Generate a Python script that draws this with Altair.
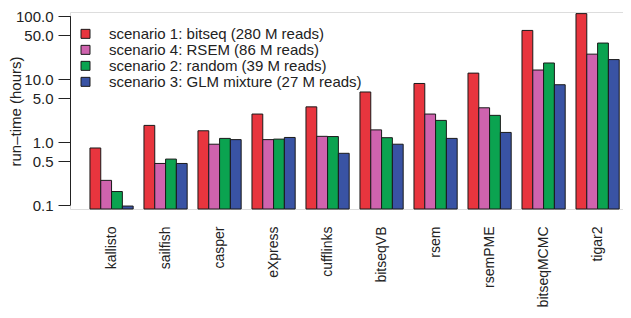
import altair as alt
import pandas as pd

methods = ["kallisto", "sailfish", "casper", "eXpress", "cufflinks",
           "bitseqVB", "rsem", "rsemPME", "bitseqMCMC", "tigar2"]
scenarios = ["scenario 1: bitseq (280 M reads)",
             "scenario 4: RSEM (86 M reads)",
             "scenario 2: random (39 M reads)",
             "scenario 3: GLM mixture (27 M reads)"]
s1 = [0.81, 1.85, 1.52, 2.80, 3.64, 6.27, 8.56, 12.5, 59.5, 110.0]
s4 = [0.248, 0.46, 0.93, 1.10, 1.24, 1.57, 2.80, 3.52, 14.0, 25.0]
s2 = [0.165, 0.54, 1.15, 1.12, 1.23, 1.18, 2.22, 2.67, 18.1, 37.5]
s3 = [0.097, 0.46, 1.10, 1.19, 0.667, 0.93, 1.15, 1.43, 8.18, 20.5]
colors = ["#E8353E", "#CF63AE", "#0BA350", "#3953A4"]
y_ticks = [0.1, 0.5, 1, 5, 10, 50, 100]
y_base = 0.0871
y_top = 116.7

series = [s1, s4, s2, s3]
rows = []
for scen, vals in zip(scenarios, series):
    for m, v in zip(methods, vals):
        rows.append({"method": m, "scenario": scen, "value": v})
df = pd.DataFrame(rows)

FONT = "Liberation Sans"
TXT = "#222222"

yscale = alt.Scale(type="log", domain=[y_base, y_top], nice=False, zero=False)

bars = alt.Chart(df).mark_bar(stroke="#1a1a1a", strokeWidth=1).encode(
    x=alt.X("method:N", sort=methods,
            scale=alt.Scale(paddingInner=0.2, paddingOuter=0.22, align=0.84),
            axis=alt.Axis(title=None, labelAngle=270, ticks=False, tickSize=0,
                          domain=False, labelPadding=17, labelFontSize=14,
                          labelFont=FONT, labelColor=TXT)),
    xOffset=alt.XOffset("scenario:N", sort=scenarios),
    y=alt.Y("value:Q", scale=yscale,
            axis=alt.Axis(values=y_ticks, format=".1f", tickSize=12,
                          labelPadding=5, domain=False, grid=False,
                          labelFontSize=15, labelFont=FONT, labelColor=TXT,
                          tickColor=TXT, tickWidth=1,
                          title="run–time (hours)", titleFontSize=15,
                          titleFont=FONT, titleFontWeight="normal",
                          titleColor=TXT, titleX=-54.5, titleY=99,
                          titleBaseline="middle", titleAlign="center",
                          titleAngle=270)),
    y2=alt.datum(y_base),
    color=alt.Color("scenario:N", sort=scenarios,
                    scale=alt.Scale(domain=scenarios, range=colors),
                    legend=alt.Legend(title=None, orient="none", legendX=8,
                                      legendY=14.5, symbolType="square",
                                      symbolSize=81, symbolStrokeColor="#1a1a1a",
                                      symbolStrokeWidth=1, symbolOpacity=1,
                                      labelFontSize=15, labelFont=FONT,
                                      labelColor=TXT, labelOffset=16,
                                      labelLimit=0, rowPadding=0,
                                      clipHeight=14.7, padding=0)),
)

axis_line = alt.Chart(pd.DataFrame({"a": [0]})).mark_rule(
    color=TXT, strokeWidth=1).encode(
    x=alt.value(0.5), y=alt.datum(0.1), y2=alt.datum(100))

chart = alt.layer(bars, axis_line).properties(
    width=553, height=197,
    padding={"left": 62, "top": 4, "right": 0, "bottom": 98},
    autosize=alt.AutoSizeParams(type="none"),
).configure_view(stroke=None).configure(background="white")

chart.save("out.html", embed_options={"renderer": "svg", "actions": False})
